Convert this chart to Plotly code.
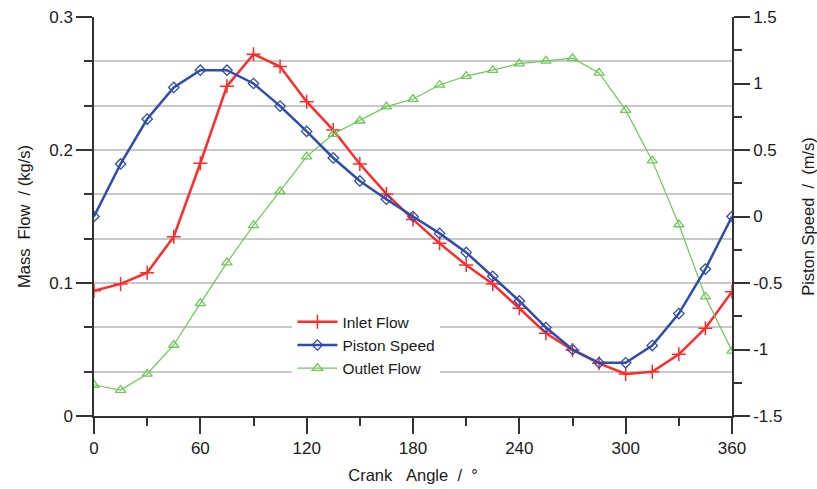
import plotly.graph_objects as go

crank_angle = [0, 15, 30, 45, 60, 75, 90, 105, 120, 135, 150, 165, 180,
               195, 210, 225, 240, 255, 270, 285, 300, 315, 330, 345, 360]

inlet_flow = [0.0942, 0.0993, 0.1078, 0.1348, 0.190, 0.248, 0.272, 0.2627, 0.2363,
              0.215, 0.1895, 0.167, 0.1478, 0.1298, 0.1135, 0.0992, 0.081, 0.0622,
              0.0496, 0.0396, 0.0316, 0.0333, 0.0464, 0.066, 0.0935]

piston_speed = [0.0, 0.395, 0.733, 0.97, 1.10, 1.10, 1.0, 0.83, 0.64, 0.44, 0.267, 0.13, 0.0,
                -0.127, -0.27, -0.45, -0.635, -0.835, -1.0, -1.1, -1.1, -0.97, -0.73, -0.395, 0.0]

outlet_flow = [0.0233, 0.0195, 0.0316, 0.0534, 0.0847, 0.1153, 0.1433, 0.169, 0.195,
               0.212, 0.222, 0.2326, 0.2383, 0.2489, 0.2556, 0.260, 0.265, 0.267,
               0.269, 0.258, 0.230, 0.192, 0.144, 0.0897, 0.0489]

x_ticks = [0, 60, 120, 180, 240, 300, 360]
left_ticks = [0, 0.1, 0.2, 0.3]
left_labels = ["0", "0.1", "0.2", "0.3"]
right_ticks = [-1.5, -1, -0.5, 0, 0.5, 1, 1.5]
right_labels = ["-1.5", "-1", "-0.5", "0", "0.5", "1", "1.5"]

FONT = "Liberation Sans, Arial, sans-serif"
NB = "\u00a0"

fig = go.Figure()
fig.add_trace(go.Scatter(
    x=crank_angle, y=inlet_flow, name="Inlet Flow", mode="lines+markers",
    line=dict(color="#ff2b2b", width=2.5),
    marker=dict(symbol="cross-thin", size=10, line=dict(color="#ff2b2b", width=1.5)),
))
fig.add_trace(go.Scatter(
    x=crank_angle, y=piston_speed, name="Piston Speed", mode="lines+markers",
    yaxis="y2",
    line=dict(color="#2e4cab", width=2.5),
    marker=dict(symbol="diamond-open", size=8, color="#2e4cab", line=dict(color="#2e4cab", width=1.3)),
))
fig.add_trace(go.Scatter(
    x=crank_angle, y=outlet_flow, name="Outlet Flow", mode="lines+markers",
    line=dict(color="#6cc857", width=1.2),
    marker=dict(symbol="triangle-up-open", size=9, color="#6cc857", line=dict(color="#6cc857", width=1.3)),
))

axis_common = dict(
    showline=True, linecolor="#333333", linewidth=1.5,
    ticks="outside", ticklen=16, tickwidth=1.5, tickcolor="#333333",
    tickfont=dict(family=FONT, size=17, color="#1a1a1a"),
    zeroline=False, automargin=False,
)

fig.update_layout(
    width=817, height=489,
    margin=dict(l=94, r=85, t=17, b=73),
    paper_bgcolor="white", plot_bgcolor="white",
    font=dict(family=FONT, size=16, color="#1a1a1a"),
    showlegend=True,
    legend=dict(
        x=0.311, y=0.2775, xanchor="left", yanchor="top",
        bgcolor="white", borderwidth=0,
        font=dict(family=FONT, size=15.5, color="#1a1a1a"),
        tracegroupgap=0, itemwidth=40,
    ),
    xaxis=dict(
        range=[0, 360], tickvals=x_ticks, ticktext=[str(v) for v in x_ticks],
        showgrid=False,
        minor=dict(dtick=30, ticks="outside", ticklen=8, tickwidth=1.5, tickcolor="#333333", showgrid=False),
        title=dict(text=f"Crank{NB}{NB}{NB}Angle{NB}{NB}/{NB}{NB}°", font=dict(family=FONT, size=16.5), standoff=12),
        **axis_common,
    ),
    yaxis=dict(
        range=[0, 0.3], tickvals=left_ticks, ticktext=left_labels,
        showgrid=True, gridcolor="#c8c8c8", gridwidth=1.5,
        minor=dict(dtick=0.1 / 3, ticks="outside", ticklen=8, tickwidth=1.5, tickcolor="#333333",
                   showgrid=True, gridcolor="#c8c8c8", gridwidth=1.5),
        title=dict(text=f"Mass{NB}{NB}Flow{NB}{NB}/{NB}(kg/s)", font=dict(family=FONT, size=16.5), standoff=14),
        **axis_common,
    ),
    yaxis2=dict(
        range=[-1.5, 1.5], tickvals=right_ticks, ticktext=right_labels,
        overlaying="y", side="right", showgrid=False,
        minor=dict(dtick=0.25, ticks="outside", ticklen=8, tickwidth=1.5, tickcolor="#333333", showgrid=False),
        title=dict(text=f"Piston{NB}Speed{NB}{NB}/{NB}{NB}(m/s)", font=dict(family=FONT, size=16.5), standoff=21),
        **axis_common,
    ),
)

fig.write_html("out.html")
